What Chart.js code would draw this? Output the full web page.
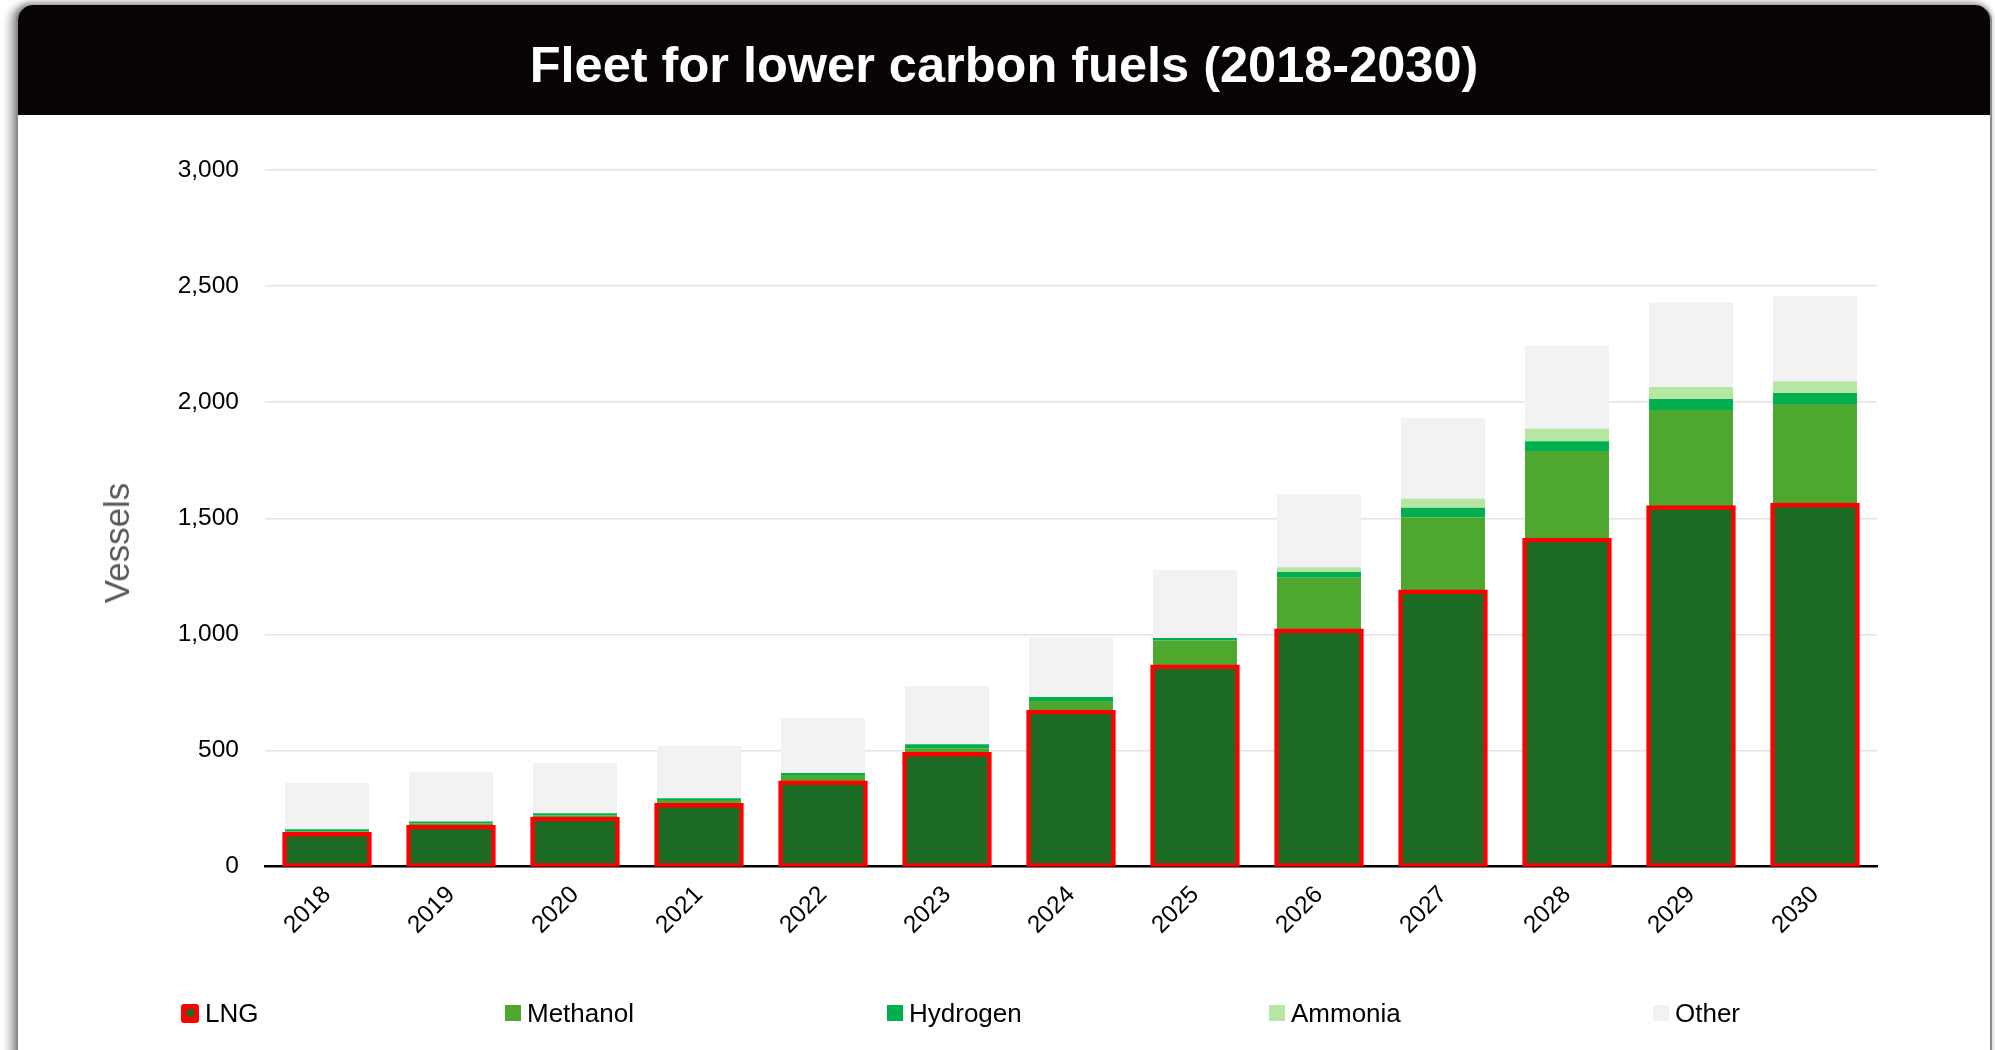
<!DOCTYPE html>
<html>
<head>
<meta charset="utf-8">
<script src="https://cdn.jsdelivr.net/npm/chart.js@4"></script>
<style>
  html, body { margin: 0; padding: 0; background: #ffffff; width: 1995px; height: 1050px; overflow: hidden; }
  #card { position: absolute; left: 16px; top: 5px; width: 1972px; height: 1100px; background: #fff;
          border-left: 2px solid #8a8a8a; border-right: 2px solid #8a8a8a; border-radius: 16px 16px 0 0;
          box-shadow: -6px 0 8px rgba(0,0,0,0.35), 0 -3px 5px rgba(0,0,0,0.25); }
  #header { position: absolute; left: 0; top: 0; width: 100%; height: 110px; background: #080404;
            border-radius: 15px 15px 0 0; }
  #title { position: absolute; left: 0; width: 2008px; top: 36px; text-align: center; color: #fff;
           font-family: "Liberation Sans", Arial, sans-serif; font-weight: bold; font-size: 50.5px; line-height: 58px; }
  #wrap { position: absolute; left: 0; top: 0; width: 1995px; height: 1050px; }
  #ytitle { position: absolute; left: 117px; top: 543px; transform: translate(-50%, -50%) rotate(-90deg);
            font-family: "Liberation Sans", Arial, sans-serif; font-size: 35px; color: #595959; white-space: nowrap; }
  .lg { position: absolute; top: 998px; height: 30px; display: flex; align-items: center;
        font-family: "Liberation Sans", Arial, sans-serif; font-size: 26px; color: #000; white-space: nowrap; }
  .lg .box { width: 16px; height: 16px; margin-right: 6px; box-sizing: border-box; }
</style>
</head>
<body>
<div id="card"><div id="header"></div></div>
<div id="title">Fleet for lower carbon fuels (2018-2030)</div>
<div id="wrap"><canvas id="c" width="1995" height="1050"></canvas></div>
<div id="ytitle">Vessels</div>
<div id="legend"></div>
<script>
const years = ["2018","2019","2020","2021","2022","2023","2024","2025","2026","2027","2028","2029","2030"];
const lng      = [140, 171, 206, 265, 362, 485, 667, 861, 1016, 1185, 1407, 1547, 1558];
const methanol = [ 12,  15,  14,  21,  32,  24,  46, 112,  228,  319,  383,  419,  434];
const hydrogen = [  8,   8,   9,   8,   9,  18,  17,  11,   24,   41,   42,   48,   47];
const ammonia  = [  0,   0,   0,   0,   0,   0,   0,   0,   21,   39,   53,   51,   51];
const other    = [200, 213, 217, 226, 237, 250, 258, 293,  314,  348,  358,  365,  366];
const yTicks   = [0, 500, 1000, 1500, 2000, 2500, 3000];

const seriesNames  = ["LNG", "Methanol", "Hydrogen", "Ammonia", "Other"];
const seriesColors = ["#1b6b25", "#4ea72e", "#00b050", "#b5e6a2", "#f2f2f2"];
const seriesData   = [lng, methanol, hydrogen, ammonia, other];

const datasets = seriesData.map((d, i) => {
  const ds = {
    label: seriesNames[i],
    data: d,
    backgroundColor: seriesColors[i],
    borderWidth: 0,
    barPercentage: 0.677,
    categoryPercentage: 1.0,
    inflateAmount: 0,
    stack: "s"
  };
  if (i === 0) {
    ds.borderColor = "#ff0000";
    ds.borderWidth = 4.5;
    ds.borderSkipped = false;
    ds.borderRadius = 3;
    ds.barPercentage = 0.69;
    ds.inflateAmount = 2;
  }
  return ds;
});

const tickFont = { family: "Liberation Sans", size: 24.5 };

new Chart(document.getElementById("c"), {
  type: "bar",
  data: { labels: years, datasets },
  options: {
    responsive: false,
    animation: false,
    events: [],
    layout: { padding: { top: 170, right: 118, bottom: 0, left: 0 } },
    plugins: { legend: { display: false }, tooltip: { enabled: false }, title: { display: false } },
    scales: {
      x: {
        stacked: true,
        grid: { display: false, drawTicks: false },
        border: { display: true, color: "#000000", width: 2.5 },
        ticks: { font: tickFont, color: "#000000", minRotation: 45, maxRotation: 45, padding: 14, autoSkip: false },
        afterFit: (s) => { s.height = 183.5; }
      },
      y: {
        stacked: true,
        min: 0, max: 3000,
        afterBuildTicks: (s) => { s.ticks = yTicks.map(v => ({ value: v })); },
        grid: { color: "#e3e3e3", lineWidth: 1.5, drawTicks: false },
        border: { display: false },
        ticks: { font: tickFont, color: "#000000", padding: 26,
                 callback: (v) => Number(v).toLocaleString("en-US") },
        afterFit: (s) => { s.width = 265; }
      }
    }
  }
});

// HTML legend built from the series arrays
const legendLeft = [181, 505, 887, 1269, 1653];
const lgEl = document.getElementById("legend");
seriesNames.forEach((name, i) => {
  const item = document.createElement("div");
  item.className = "lg";
  item.style.left = legendLeft[i] + "px";
  const box = document.createElement("div");
  box.className = "box";
  if (i === 0) {
    box.style.width = "18px"; box.style.height = "19px";
    box.style.background = "#ff0000"; box.style.borderRadius = "3px";
    box.style.display = "flex"; box.style.alignItems = "center"; box.style.justifyContent = "center";
    const inner = document.createElement("div");
    inner.style.width = "7px"; inner.style.height = "8px"; inner.style.background = seriesColors[0];
    box.appendChild(inner);
  } else {
    box.style.background = seriesColors[i];
  }
  const txt = document.createElement("span");
  txt.textContent = name;
  item.appendChild(box);
  item.appendChild(txt);
  lgEl.appendChild(item);
});
</script>
</body>
</html>
